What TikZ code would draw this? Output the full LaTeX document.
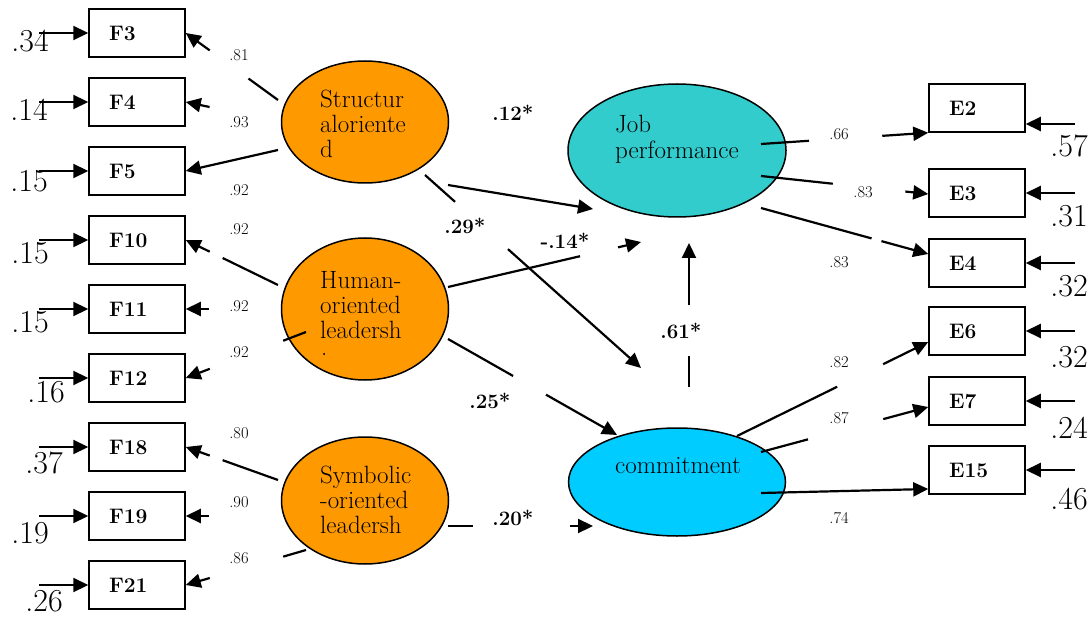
\documentclass[tikz,border=0pt]{standalone}
\usetikzlibrary{arrows.meta,calc,shapes.geometric}
\definecolor{orng}{HTML}{FF9900}
\definecolor{tealc}{HTML}{33CCCC}
\definecolor{cyanc}{HTML}{00CCFF}
\newcommand\gapln[4]{%
  \draw[conn] (#1) -- ($(#1)!#3!(#2)$);
  \draw[arr] ($(#1)!#4!(#2)$) -- (#2);}
\begin{document}
\begin{tikzpicture}[x=1pt,y=-1pt,
  box/.style={draw, line width=1.5pt, minimum width=96pt, minimum height=48pt,
    text width=56pt, inner xsep=20pt, inner ysep=0pt, align=left,
    font=\fontsize{21}{23}\selectfont\bfseries},
  lat/.style={ellipse, draw, line width=1.5pt, inner sep=0pt},
  conn/.style={line width=2.2pt},
  arr/.style={conn, -{Triangle[length=15pt,width=14pt]}},
  load/.style={inner sep=1pt, font=\fontsize{16.5}{18}\selectfont},
  coef/.style={inner sep=1pt, font=\fontsize{20.5}{23}\selectfont\bfseries},
  err/.style={inner sep=0pt, font=\fontsize{32}{34}\selectfont},
  ltxt/.style={anchor=base west, inner sep=0pt, font=\fontsize{25}{25}\selectfont}
]
\useasboundingbox (0,0) rectangle (1091,617);

% observed boxes
\node[box] (f3) at (137,33) {F3};
\node[box] (f4) at (137,102) {F4};
\node[box] (f5) at (137,171) {F5};
\node[box] (f10) at (137,240) {F10};
\node[box] (f11) at (137,309) {F11};
\node[box] (f12) at (137,378) {F12};
\node[box] (f18) at (137,447) {F18};
\node[box] (f19) at (137,516) {F19};
\node[box] (f21) at (137,585) {F21};
\node[box] (e2) at (977,108) {E2};
\node[box] (e3) at (977,193) {E3};
\node[box] (e4) at (977,263) {E4};
\node[box] (e6) at (977,331) {E6};
\node[box] (e7) at (977,401) {E7};
\node[box] (e15) at (977,470) {E15};

% latent variables
\node[lat, fill=orng, minimum width=167pt, minimum height=122pt] (s) at (365,122) {};
\node[lat, fill=orng, minimum width=167pt, minimum height=142pt] (h) at (365,309) {};
\node[lat, fill=orng, minimum width=167pt, minimum height=127pt] (sy) at (365,500.5) {};
\node[lat, fill=tealc, minimum width=218pt, minimum height=133pt] (jp) at (677,150.5) {};
\node[lat, fill=cyanc, minimum width=217pt, minimum height=108pt] (cm) at (677,482) {};

\node[ltxt] (stxt) at (320,108) {\begin{tabular}[t]{@{}l@{}}Structur\\aloriente\\d\end{tabular}};
\node[ltxt] (htxt) at (320,288) {\begin{tabular}[t]{@{}l@{}}Human-\\oriented\\leadersh\end{tabular}};
\node[ltxt] (hdot) at (321,355) {.};
\node[ltxt] (sytxt) at (320,483) {\begin{tabular}[t]{@{}l@{}}Symbolic\\-oriented\\leadersh\end{tabular}};
\node[ltxt] (jptxt) at (615,133) {\begin{tabular}[t]{@{}l@{}}Job\\performance\end{tabular}};
\node[ltxt] (cmtxt) at (615,473) {commitment};

% error terms
\node[err] (r3) at (30,41) {.34};
\node[err] (r4) at (29,110) {.14};
\node[err] (r5) at (29,181) {.15};
\node[err] (r10) at (30,253) {.15};
\node[err] (r11) at (30,322) {.15};
\node[err] (r12) at (46,392) {.16};
\node[err] (r18) at (44,463) {.37};
\node[err] (r19) at (30,533) {.19};
\node[err] (r21) at (44,601) {.26};
\node[err] (r2) at (1069,146) {.57};
\node[err] (r3e) at (1069,216) {.31};
\node[err] (r4e) at (1069,286) {.32};
\node[err] (r6e) at (1069,357) {.32};
\node[err] (r7e) at (1069,428) {.24};
\node[err] (r15e) at (1069,499) {.46};

\foreach \b in {f3,f4,f5,f10,f11,f12,f18,f19,f21}
  \draw[arr] ([xshift=-49pt]\b.west) -- (\b.west);
\draw[arr] ($(e2.east)+(49,16)$) -- ($(e2.east)+(0,16)$);
\foreach \b in {e3,e4,e6,e7,e15}
  \draw[arr] ([xshift=49pt]\b.east) -- (\b.east);

% left loadings
\coordinate (s3) at (278,100);
\coordinate (s4) at (281,122);
\coordinate (s5) at (278,150);
\coordinate (h10) at (278,285);
\coordinate (h11) at (209,309);
\coordinate (h12) at (306,332);
\coordinate (y18) at (278,480);
\coordinate (y19) at (209,516);
\coordinate (y21) at (306,550);
\gapln{s3}{f3.east}{0.32}{0.74}
\draw[arr] ($(s4)!0.75!(f4.east)$) -- (f4.east);
\draw[arr] (s5) -- (f5.east);
\gapln{h10}{f10.east}{0.60}{0.74}
\draw[arr] (h11) -- (f11.east);
\gapln{h12}{f12.east}{0.19}{0.80}
\gapln{y18}{f18.east}{0.60}{0.74}
\draw[arr] (y19) -- (f19.east);
\gapln{y21}{f21.east}{0.19}{0.80}

\node[load] (l3) at (239,55) {.81};
\node[load] (l4) at (239,122) {.93};
\node[load] (l5) at (239,190) {.92};
\node[load] (l10) at (239,229) {.92};
\node[load] (l11) at (239,306) {.92};
\node[load] (l12) at (239,352) {.92};
\node[load] (l18) at (239,433) {.80};
\node[load] (l19) at (239,502) {.90};
\node[load] (l21) at (239,558) {.86};

% structural paths
\coordinate (a1) at (448,185); \coordinate (jpa) at (593,209);
\coordinate (a2) at (425,175); \coordinate (cma) at (641,368);
\coordinate (a3) at (448,287); \coordinate (jpb) at (641,242);
\coordinate (a4) at (448,339); \coordinate (cmb) at (617,435);
\coordinate (a5) at (448,526); \coordinate (cmc) at (593,526);
\coordinate (a6) at (689,387); \coordinate (jpc) at (689,243);
\draw[arr] (a1) -- (jpa);
\gapln{a2}{cma}{0.139}{0.384}
\gapln{a3}{jpb}{0.684}{0.881}
\gapln{a4}{cmb}{0.385}{0.58}
\gapln{a5}{cmc}{0.172}{0.841}
\gapln{a6}{jpc}{0.215}{0.569}

\node[coef] (p1) at (513,113) {.12*};
\node[coef] (p2) at (465,226) {.29*};
\node[coef] (p3) at (565,241) {-.14*};
\node[coef] (p4) at (681,331) {.61*};
\node[coef] (p5) at (490,401) {.25*};
\node[coef] (p6) at (513,518) {.20*};

% right loadings
\coordinate (b1) at (761,144); \coordinate (b2) at (761,176); \coordinate (b3) at (761,208);
\coordinate (c1) at (737,436); \coordinate (c2) at (761,452); \coordinate (c3) at (761,493);
\coordinate (e2in) at (e2.south west);
\coordinate (e3in) at ($(e3.west)+(0,1)$);
\coordinate (e4in) at ($(e4.west)+(0,-9)$);
\coordinate (e6in) at ($(e6.west)+(0,11)$);
\coordinate (e7in) at ($(e7.west)+(0,6)$);
\coordinate (e15in) at ($(e15.west)+(0,19)$);
\gapln{b1}{e2in}{0.287}{0.725}
\gapln{b2}{e3in}{0.429}{0.863}
\gapln{b3}{e4in}{0.661}{0.72}
\gapln{c1}{e6in}{0.524}{0.764}
\gapln{c2}{e7in}{0.281}{0.731}
\draw[arr] (c3) -- (e15in);

\node[load] (m2) at (839,134) {.66};
\node[load] (m3) at (863,192) {.83};
\node[load] (m4) at (839,262) {.83};
\node[load] (m6) at (839,362) {.82};
\node[load] (m7) at (839,418) {.87};
\node[load] (m15) at (839,518) {.74};
\end{tikzpicture}
\end{document}
